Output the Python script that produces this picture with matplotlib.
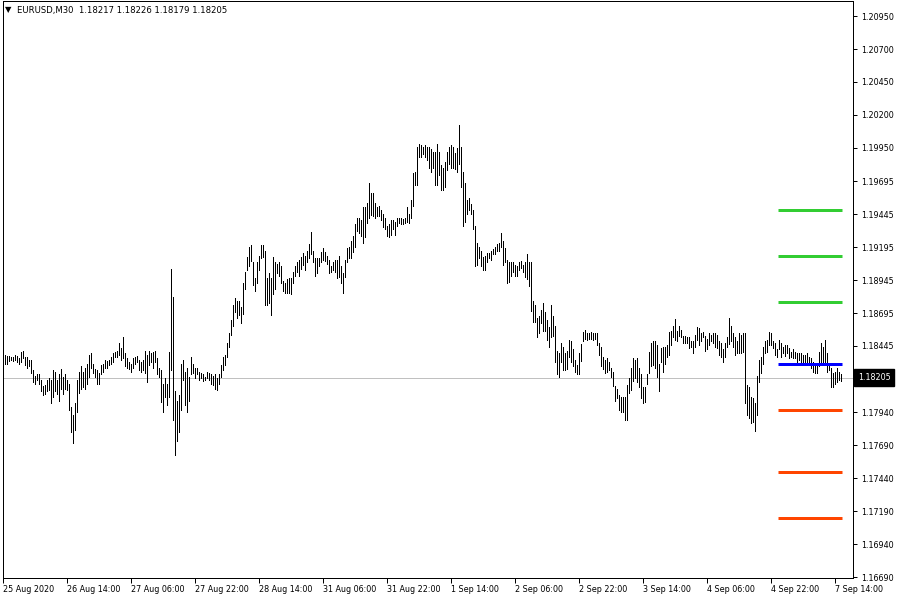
"""
EURUSD M30 bar chart in the MetaTrader look, with pivot-style levels.

Run:  python plot.py   -> writes out.png (900x600)
"""
import numpy as np
import matplotlib
matplotlib.use("Agg")
import matplotlib.pyplot as plt
import matplotlib.transforms as mtransforms

# --- data (one bar per 30 min) ---
highs = [
    1.1838, 1.1838, 1.1837, 1.1837, 1.1836, 1.1836, 1.1838, 1.1837, 1.1835, 1.1840,
    1.1841, 1.1836, 1.1836, 1.1834, 1.1834, 1.1826, 1.1822, 1.1823, 1.1823, 1.1819,
    1.1814, 1.1815, 1.1819, 1.1820, 1.1819, 1.1826, 1.1825, 1.1819, 1.1823, 1.1827,
    1.1821, 1.1823, 1.1819, 1.1816, 1.1798, 1.1792, 1.1801, 1.1819, 1.1825, 1.1829,
    1.1825, 1.1828, 1.1831, 1.1838, 1.1839, 1.1831, 1.1827, 1.1826, 1.1824, 1.1830,
    1.1831, 1.1834, 1.1833, 1.1834, 1.1836, 1.1839, 1.1840, 1.1841, 1.1847, 1.1843,
    1.1851, 1.1839, 1.1835, 1.1832, 1.1831, 1.1835, 1.1836, 1.1837, 1.1834, 1.1832,
    1.1834, 1.1841, 1.1838, 1.1841, 1.1839, 1.1840, 1.1841, 1.1835, 1.1828, 1.1826,
    1.1816, 1.1820, 1.1816, 1.1840, 1.1903, 1.1882, 1.1810, 1.1803, 1.1807, 1.1831,
    1.1834, 1.1825, 1.1828, 1.1821, 1.1836, 1.1831, 1.1828, 1.1828, 1.1825, 1.1824,
    1.1823, 1.1821, 1.1825, 1.1824, 1.1823, 1.1822, 1.1823, 1.1820, 1.1823, 1.1830,
    1.1836, 1.1838, 1.1847, 1.1854, 1.1864, 1.1876, 1.1881, 1.1879, 1.1879, 1.1874,
    1.1892, 1.1901, 1.1912, 1.1920, 1.1921, 1.1908, 1.1896, 1.1908, 1.1913, 1.1921,
    1.1921, 1.1917, 1.1896, 1.1900, 1.1896, 1.1912, 1.1908, 1.1907, 1.1908, 1.1905,
    1.1894, 1.1892, 1.1895, 1.1896, 1.1896, 1.1901, 1.1905, 1.1908, 1.1910, 1.1912,
    1.1915, 1.1913, 1.1917, 1.1922, 1.1931, 1.1917, 1.1911, 1.1911, 1.1911, 1.1916,
    1.1919, 1.1916, 1.1913, 1.1910, 1.1905, 1.1908, 1.1910, 1.1910, 1.1913, 1.1905,
    1.1900, 1.1910, 1.1919, 1.1920, 1.1924, 1.1928, 1.1937, 1.1942, 1.1942, 1.1940,
    1.1950, 1.1950, 1.1953, 1.1968, 1.1961, 1.1961, 1.1953, 1.1950, 1.1951, 1.1948,
    1.1945, 1.1942, 1.1936, 1.1937, 1.1940, 1.1940, 1.1939, 1.1942, 1.1942, 1.1942,
    1.1941, 1.1942, 1.1950, 1.1945, 1.1955, 1.1976, 1.1977, 1.1996, 1.1998, 1.1997,
    1.1996, 1.1997, 1.1996, 1.1996, 1.1994, 1.1992, 1.1992, 1.1998, 1.1992, 1.1982,
    1.1980, 1.1984, 1.1992, 1.1996, 1.1997, 1.1996, 1.1991, 1.1995, 1.2012, 1.1996,
    1.1977, 1.1968, 1.1955, 1.1957, 1.1952, 1.1948, 1.1936, 1.1923, 1.1920, 1.1917,
    1.1912, 1.1913, 1.1915, 1.1915, 1.1917, 1.1918, 1.1920, 1.1922, 1.1923, 1.1930,
    1.1924, 1.1919, 1.1910, 1.1908, 1.1908, 1.1908, 1.1906, 1.1905, 1.1908, 1.1909,
    1.1906, 1.1908, 1.1914, 1.1908, 1.1908, 1.1879, 1.1876, 1.1866, 1.1867, 1.1872,
    1.1877, 1.1870, 1.1864, 1.1859, 1.1876, 1.1867, 1.1860, 1.1841, 1.1839, 1.1847,
    1.1844, 1.1839, 1.1841, 1.1849, 1.1848, 1.1842, 1.1834, 1.1830, 1.1839, 1.1846,
    1.1855, 1.1857, 1.1854, 1.1854, 1.1855, 1.1854, 1.1854, 1.1854, 1.1847, 1.1844,
    1.1836, 1.1834, 1.1835, 1.1832, 1.1828, 1.1825, 1.1814, 1.1812, 1.1807, 1.1806,
    1.1806, 1.1806, 1.1815, 1.1820, 1.1828, 1.1835, 1.1834, 1.1835, 1.1828, 1.1823,
    1.1813, 1.1813, 1.1823, 1.1840, 1.1847, 1.1848, 1.1848, 1.1845, 1.1831, 1.1843,
    1.1844, 1.1844, 1.1845, 1.1855, 1.1856, 1.1860, 1.1865, 1.1856, 1.1860, 1.1857,
    1.1852, 1.1852, 1.1851, 1.1851, 1.1848, 1.1848, 1.1853, 1.1859, 1.1858, 1.1854,
    1.1855, 1.1852, 1.1850, 1.1854, 1.1853, 1.1854, 1.1854, 1.1853, 1.1848, 1.1847,
    1.1842, 1.1847, 1.1851, 1.1866, 1.1860, 1.1854, 1.1851, 1.1848, 1.1854, 1.1853,
    1.1854, 1.1854, 1.1815, 1.1813, 1.1806, 1.1805, 1.1801, 1.1822, 1.1834, 1.1836,
    1.1844, 1.1848, 1.1849, 1.1855, 1.1854, 1.1848, 1.1847, 1.1842, 1.1849, 1.1847,
    1.1844, 1.1845, 1.1845, 1.1843, 1.1840, 1.1842, 1.1840, 1.1839, 1.1839, 1.1839,
    1.1838, 1.1838, 1.1839, 1.1836, 1.1835, 1.1832, 1.1831, 1.1831, 1.1840, 1.1847,
    1.1844, 1.1849, 1.1839, 1.1831, 1.1828, 1.1824, 1.1825, 1.1828, 1.1825, 1.1823,
]
lows = [
    1.1832, 1.1831, 1.1831, 1.1833, 1.1834, 1.1833, 1.1834, 1.1832, 1.1831, 1.1832,
    1.1835, 1.1830, 1.1828, 1.1829, 1.1824, 1.1817, 1.1816, 1.1819, 1.1816, 1.1810,
    1.1807, 1.1808, 1.1810, 1.1811, 1.1801, 1.1806, 1.1810, 1.1808, 1.1803, 1.1812,
    1.1808, 1.1812, 1.1811, 1.1796, 1.1779, 1.1771, 1.1781, 1.1794, 1.1809, 1.1812,
    1.1813, 1.1812, 1.1816, 1.1821, 1.1828, 1.1824, 1.1821, 1.1816, 1.1816, 1.1823,
    1.1825, 1.1828, 1.1828, 1.1830, 1.1831, 1.1832, 1.1836, 1.1836, 1.1838, 1.1834,
    1.1835, 1.1829, 1.1828, 1.1827, 1.1825, 1.1828, 1.1831, 1.1832, 1.1826, 1.1825,
    1.1826, 1.1824, 1.1817, 1.1830, 1.1832, 1.1828, 1.1832, 1.1823, 1.1821, 1.1802,
    1.1794, 1.1806, 1.1800, 1.1806, 1.1826, 1.1788, 1.1762, 1.1772, 1.1779, 1.1796,
    1.1819, 1.1800, 1.1794, 1.1803, 1.1823, 1.1824, 1.1820, 1.1823, 1.1819, 1.1820,
    1.1818, 1.1819, 1.1820, 1.1819, 1.1816, 1.1815, 1.1812, 1.1811, 1.1816, 1.1821,
    1.1826, 1.1830, 1.1836, 1.1844, 1.1853, 1.1860, 1.1870, 1.1866, 1.1868, 1.1862,
    1.1869, 1.1888, 1.1902, 1.1905, 1.1909, 1.1891, 1.1886, 1.1892, 1.1902, 1.1911,
    1.1912, 1.1876, 1.1876, 1.1877, 1.1868, 1.1884, 1.1888, 1.1900, 1.1898, 1.1892,
    1.1886, 1.1885, 1.1885, 1.1885, 1.1884, 1.1892, 1.1898, 1.1901, 1.1898, 1.1903,
    1.1906, 1.1902, 1.1908, 1.1911, 1.1914, 1.1908, 1.1898, 1.1900, 1.1905, 1.1908,
    1.1910, 1.1909, 1.1907, 1.1900, 1.1901, 1.1902, 1.1901, 1.1896, 1.1897, 1.1892,
    1.1885, 1.1897, 1.1908, 1.1911, 1.1911, 1.1916, 1.1920, 1.1932, 1.1930, 1.1928,
    1.1923, 1.1927, 1.1938, 1.1942, 1.1944, 1.1943, 1.1942, 1.1943, 1.1943, 1.1940,
    1.1935, 1.1933, 1.1928, 1.1927, 1.1929, 1.1933, 1.1929, 1.1936, 1.1938, 1.1937,
    1.1937, 1.1938, 1.1939, 1.1938, 1.1942, 1.1951, 1.1967, 1.1967, 1.1988, 1.1988,
    1.1990, 1.1988, 1.1986, 1.1980, 1.1977, 1.1980, 1.1967, 1.1967, 1.1974, 1.1963,
    1.1963, 1.1965, 1.1978, 1.1983, 1.1980, 1.1980, 1.1979, 1.1977, 1.1983, 1.1965,
    1.1936, 1.1939, 1.1945, 1.1948, 1.1945, 1.1933, 1.1905, 1.1906, 1.1911, 1.1905,
    1.1902, 1.1902, 1.1908, 1.1911, 1.1910, 1.1914, 1.1914, 1.1917, 1.1917, 1.1920,
    1.1906, 1.1908, 1.1892, 1.1893, 1.1898, 1.1901, 1.1898, 1.1898, 1.1902, 1.1904,
    1.1901, 1.1897, 1.1895, 1.1890, 1.1871, 1.1863, 1.1863, 1.1851, 1.1854, 1.1862,
    1.1856, 1.1856, 1.1849, 1.1844, 1.1851, 1.1852, 1.1832, 1.1823, 1.1821, 1.1832,
    1.1826, 1.1826, 1.1827, 1.1836, 1.1832, 1.1829, 1.1825, 1.1823, 1.1823, 1.1833,
    1.1848, 1.1850, 1.1849, 1.1850, 1.1850, 1.1849, 1.1850, 1.1845, 1.1838, 1.1829,
    1.1827, 1.1824, 1.1825, 1.1826, 1.1821, 1.1814, 1.1803, 1.1805, 1.1796, 1.1794,
    1.1794, 1.1788, 1.1788, 1.1809, 1.1811, 1.1818, 1.1820, 1.1817, 1.1813, 1.1805,
    1.1801, 1.1802, 1.1816, 1.1824, 1.1829, 1.1830, 1.1828, 1.1821, 1.1810, 1.1832,
    1.1825, 1.1831, 1.1836, 1.1838, 1.1845, 1.1851, 1.1849, 1.1848, 1.1852, 1.1851,
    1.1847, 1.1847, 1.1847, 1.1843, 1.1844, 1.1839, 1.1844, 1.1849, 1.1845, 1.1848,
    1.1851, 1.1841, 1.1842, 1.1845, 1.1848, 1.1847, 1.1844, 1.1843, 1.1838, 1.1836,
    1.1832, 1.1836, 1.1844, 1.1846, 1.1848, 1.1844, 1.1838, 1.1839, 1.1839, 1.1839,
    1.1840, 1.1801, 1.1792, 1.1790, 1.1786, 1.1787, 1.1780, 1.1792, 1.1817, 1.1824,
    1.1831, 1.1839, 1.1840, 1.1845, 1.1845, 1.1843, 1.1838, 1.1836, 1.1842, 1.1836,
    1.1839, 1.1837, 1.1839, 1.1835, 1.1836, 1.1835, 1.1835, 1.1832, 1.1834, 1.1832,
    1.1832, 1.1832, 1.1832, 1.1830, 1.1828, 1.1825, 1.1824, 1.1824, 1.1829, 1.1832,
    1.1831, 1.1830, 1.1825, 1.1826, 1.1813, 1.1813, 1.1816, 1.1817, 1.1819, 1.1818,
]

# last bar OHLC shown in the header, and the bid line
symbol = "EURUSD,M30"
last_ohlc = [1.18217, 1.18226, 1.18179, 1.18205]
bid = 1.18205

# levels drawn over the last day
resist_levels = [1.19477, 1.19127, 1.18778]
pivot_level = [1.18307]
support_levels = [1.17958, 1.17487, 1.17138]

price_ticks = [1.20950, 1.20700, 1.20450, 1.20200, 1.19950, 1.19695, 1.19445,
               1.19195, 1.18945, 1.18695, 1.18445, 1.17940, 1.17690, 1.17440,
               1.17190, 1.16940, 1.16690]
time_labels = ["25 Aug 2020", "26 Aug 14:00", "27 Aug 06:00", "27 Aug 22:00",
               "28 Aug 14:00", "31 Aug 06:00", "31 Aug 22:00", "1 Sep 14:00",
               "2 Sep 06:00", "2 Sep 22:00", "3 Sep 14:00", "4 Sep 06:00",
               "4 Sep 22:00", "7 Sep 14:00"]
BARS_PER_LABEL = 32
LEVEL_FROM_BAR = 388

PX = 0.72  # one pixel in points at dpi 100
FONT = "DejaVu Sans"


def main():
    hi = np.array(highs)
    lo = np.array(lows)
    idx = np.arange(len(hi))

    fig = plt.figure(figsize=(9, 6), dpi=100)
    fig.patch.set_facecolor("white")
    ax = fig.add_axes([3 / 900, 22 / 600, 850 / 900, 577 / 600])
    ax.set_facecolor("white")

    # bid line first so bars sit on top of it
    ax.axhline(bid, color="#c0c0c0", lw=PX, zorder=1)
    ax.vlines(idx, lo, hi, color="black", lw=PX, antialiased=False, zorder=2)

    n = len(hi)
    x0, x1 = LEVEL_FROM_BAR - 0.5, n - 0.5
    ax.hlines(resist_levels, x0, x1, color="#32cd32", lw=3 * PX, zorder=3)
    ax.hlines(pivot_level, x0, x1, color="#0000ff", lw=3 * PX, zorder=3)
    ax.hlines(support_levels, x0, x1, color="#ff4500", lw=3 * PX, zorder=3)

    ax.set_xlim(-0.15, 424.85)
    ax.set_ylim(1.16683, 1.21065)

    for sp in ax.spines.values():
        sp.set_color("black")
        sp.set_linewidth(PX)

    # price scale on the right
    ax.yaxis.tick_right()
    ax.set_yticks(price_ticks)
    ax.set_yticklabels([f"{v:.5f}" for v in price_ticks])
    ax.tick_params(axis="y", direction="out", length=4 * PX, width=PX,
                   pad=4 * PX, labelsize=5.8, colors="black")

    # time scale
    tick_pos = np.arange(len(time_labels)) * BARS_PER_LABEL
    ax.set_xticks(tick_pos)
    ax.set_xticklabels(time_labels, ha="left")
    ax.tick_params(axis="x", direction="out", length=5 * PX, width=PX,
                   pad=2 * PX, labelsize=5.8, colors="black")
    for lab in ax.get_xticklabels() + ax.get_yticklabels():
        lab.set_family(FONT)

    # bid price box on the scale
    trans = mtransforms.blended_transform_factory(ax.transAxes, ax.transData)
    ax.text(1.0 + 5 / 850, bid, f"{bid:.5f}", transform=trans, ha="left",
            va="center", fontsize=5.8, family=FONT, color="white",
            bbox=dict(boxstyle="square,pad=0.45", facecolor="black",
                      edgecolor="black"), clip_on=False)

    # header: symbol, timeframe and last bar OHLC
    fig.text(5 / 900, 1 - 10 / 600, "\u25bc", fontsize=6, family=FONT,
             va="center", ha="left", color="black")
    header = symbol + "  " + " ".join(f"{v:.5f}" for v in last_ohlc)
    fig.text(17 / 900, 1 - 10 / 600, header, fontsize=6.1, family=FONT,
             va="center", ha="left", color="black")

    fig.savefig("out.png", dpi=100, facecolor="white")


if __name__ == "__main__":
    main()
